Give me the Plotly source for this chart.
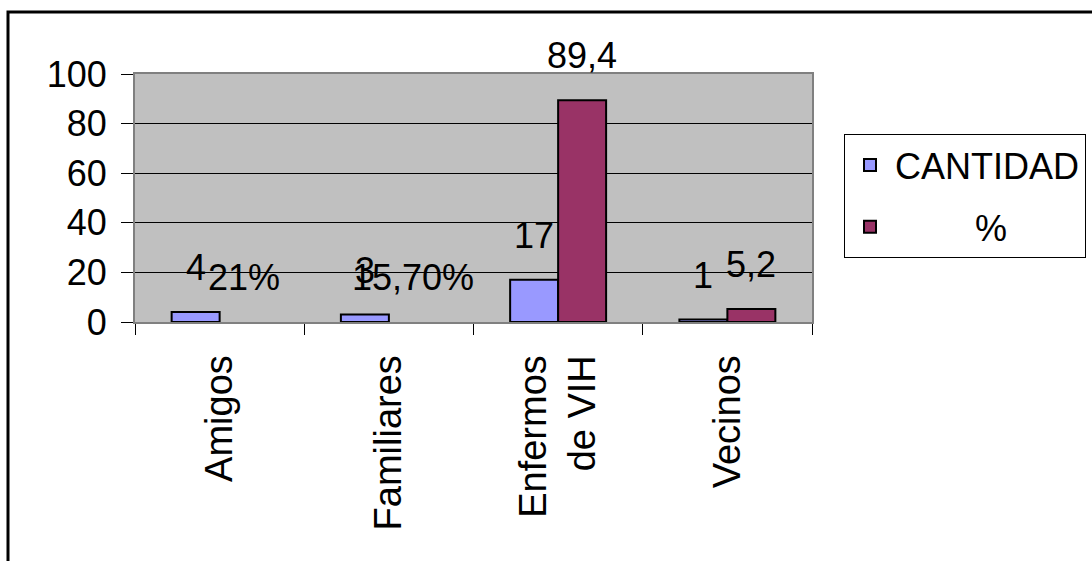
import plotly.graph_objects as go

categories = ["Amigos", "Familiares", "Enfermos<br>de VIH", "Vecinos"]
cantidad = [4, 3, 17, 1]
cantidad_labels = ["4", "3", "17", "1"]
porcentaje = [None, None, 89.4, 5.2]
porcentaje_labels = ["21%", "15,70%", "89,4", "5,2"]
y_ticks = [0, 20, 40, 60, 80, 100]

FONT = "Liberation Sans, Arial, sans-serif"
W, H = 1092, 561
L, R, T, B = 135, 812, 74, 322

fig = go.Figure()
fig.add_trace(go.Bar(
    x=categories, y=cantidad, name="CANTIDAD",
    marker=dict(color="#9999FF", line=dict(color="black", width=2)),
    legendgroup="a",
))
fig.add_trace(go.Bar(
    x=categories, y=porcentaje, name="\u00a0\u00a0\u00a0\u00a0\u00a0\u00a0\u00a0\u00a0%",
    marker=dict(color="#993366", line=dict(color="black", width=2)),
    legendgroup="b",
))

annotations = []
for cat, v, lab in zip(categories, cantidad, cantidad_labels):
    annotations.append(dict(x=cat, y=v if v is not None else 0, xref="x", yref="y",
                            text=lab, showarrow=False,
                            xshift=-24, yshift=22, yanchor="bottom",
                            font=dict(family=FONT, size=36, color="black")))
for cat, v, lab in zip(categories, porcentaje, porcentaje_labels):
    annotations.append(dict(x=cat, y=v if v is not None else 0, xref="x", yref="y",
                            text=lab, showarrow=False,
                            xshift=24, yshift=22, yanchor="bottom",
                            font=dict(family=FONT, size=36, color="black")))

fig.update_layout(
    width=W, height=H,
    margin=dict(l=L, r=W - R, t=T, b=H - B, pad=0, autoexpand=False),
    paper_bgcolor="white",
    plot_bgcolor="#C0C0C0",
    font=dict(family=FONT, size=36, color="black"),
    barmode="group",
    bargap=0.433,
    bargroupgap=0,
    annotations=annotations,
    legend=dict(
        x=(844 - L) / (R - L), y=(B - 134) / (B - T), xanchor="left", yanchor="top",
        bgcolor="white", bordercolor="black", borderwidth=1,
        font=dict(family=FONT, size=36, color="black"),
        traceorder="grouped", tracegroupgap=12, itemwidth=40,
    ),
    xaxis=dict(
        type="category", tickangle=-90, tickson="boundaries",
        ticks="outside", ticklen=11, tickcolor="black", tickwidth=1,
        showline=True, linecolor="#808080", linewidth=2, mirror=True,
        showgrid=False, ticklabelstandoff=16,
        tickfont=dict(family=FONT, size=38, color="black"),
    ),
    yaxis=dict(
        range=[0, 100], tickvals=y_ticks, ticktext=[str(v) for v in y_ticks],
        ticks="outside", ticklen=12, tickcolor="black", tickwidth=1,
        showline=True, linecolor="#808080", linewidth=2, mirror=True,
        showgrid=True, gridcolor="black", gridwidth=1, zeroline=False,
        ticklabelstandoff=7,
        tickfont=dict(family=FONT, size=36, color="black"),
    ),
    shapes=[dict(type="rect", xref="paper", yref="paper",
                 x0=(8 - L) / (R - L), x1=(1100 - L) / (R - L),
                 y0=(B - 570) / (B - T), y1=(B - 12) / (B - T),
                 line=dict(color="black", width=3), fillcolor="rgba(0,0,0,0)",
                 layer="above")],
)

fig.write_html("out.html")
